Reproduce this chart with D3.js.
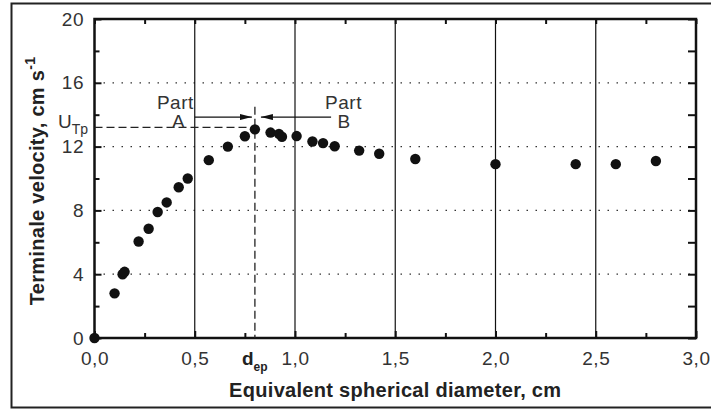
<!DOCTYPE html>
<meta charset="utf-8">
<script src="https://d3js.org/d3.v7.min.js"></script>
<style>
  body { margin: 0; background: #fff; }
  text { font-family: Arial, "Liberation Sans", sans-serif; }
</style>
<div id="chart"></div>
<script>

// data
var diameter = [0, 0.10, 0.14, 0.15, 0.22, 0.27, 0.315, 0.36, 0.42, 0.465, 0.57, 0.665, 0.75, 0.80,
                0.878, 0.92, 0.935, 1.008, 1.087, 1.14, 1.198, 1.32, 1.42, 1.60, 2.0, 2.4, 2.6, 2.8];
var velocity = [0, 2.8, 4.0, 4.15, 6.05, 6.85, 7.9, 8.5, 9.45, 10.0, 11.15, 12.0, 12.65, 13.08,
                12.88, 12.8, 12.62, 12.66, 12.32, 12.22, 12.02, 11.75, 11.55, 11.22, 10.9, 10.9, 10.9, 11.1];

var xTicks = [0, 0.5, 1.0, 1.5, 2.0, 2.5, 3.0];
var yTicks = [0, 4, 8, 12, 16, 20];
var xMinor = [0.25, 0.75, 1.25, 1.75, 2.25, 2.75];
var yMinor = [2, 6, 10, 14, 18];
var xGrid = [0.5, 1.0, 1.5, 2.0, 2.5];
var yGrid = [4, 8, 12, 16];

// annotation values
var dEp = 0.8, uTp = 13.2, arrowV = 13.85;
var arrowA = [0.5, 0.785], arrowB = [1.18, 0.83];

var W = 711, H = 409;
var margin = {top: 19, right: 15, bottom: 71, left: 94.5};

var svg = d3.select("#chart").append("svg")
    .attr("width", W)
    .attr("height", H);

var x = d3.scaleLinear().domain([0, 3]).range([margin.left, W - margin.right]);
var y = d3.scaleLinear().domain([0, 20]).range([H - margin.bottom, margin.top]);

// outer frame of the figure
svg.append("rect")
    .attr("x", 11.5).attr("y", 3.5)
    .attr("width", W).attr("height", 404)
    .attr("fill", "none").attr("stroke", "#222").attr("stroke-width", 2);

// grid
svg.selectAll(".hgrid").data(yGrid).enter().append("line")
    .attr("x1", x(0)).attr("x2", x(3))
    .attr("y1", function(d) { return y(d); }).attr("y2", function(d) { return y(d); })
    .attr("stroke", "#333").attr("stroke-width", 1.2)
    .attr("stroke-dasharray", "1.5,7.5");

svg.selectAll(".vgrid").data(xGrid).enter().append("line")
    .attr("y1", y(0)).attr("y2", y(20))
    .attr("x1", function(d) { return x(d); }).attr("x2", function(d) { return x(d); })
    .attr("stroke", "#111").attr("stroke-width", 1.2);

// axes with inward ticks
var fmt = function(d) { return d3.format(".1f")(d).replace(".", ","); };

var gx = svg.append("g")
    .attr("transform", "translate(0," + y(0) + ")")
    .call(d3.axisBottom(x).tickValues(xTicks).tickSize(-7).tickPadding(13.5).tickFormat(fmt));
var gy = svg.append("g")
    .attr("transform", "translate(" + x(0) + ",0)")
    .call(d3.axisLeft(y).tickValues(yTicks).tickSize(-7).tickPadding(10.5).tickFormat(d3.format("d")));
var gt = svg.append("g")
    .attr("transform", "translate(0," + y(20) + ")")
    .call(d3.axisTop(x).tickValues(xMinor.concat(xTicks)).tickSize(-5).tickFormat(""));
var gr = svg.append("g")
    .attr("transform", "translate(" + x(3) + ",0)")
    .call(d3.axisRight(y).tickValues(yMinor.concat(yTicks)).tickSize(-8).tickFormat(""));
var gxm = svg.append("g")
    .attr("transform", "translate(0," + y(0) + ")")
    .call(d3.axisBottom(x).tickValues(xMinor).tickSize(-5).tickFormat(""));
var gym = svg.append("g")
    .attr("transform", "translate(" + x(0) + ",0)")
    .call(d3.axisLeft(y).tickValues(yMinor).tickSize(-5).tickFormat(""));

[gx, gy, gt, gr, gxm, gym].forEach(function(g) {
  g.select(".domain").remove();
  g.selectAll(".tick line").attr("stroke", "#111").attr("stroke-width", 2);
  g.selectAll(".tick text").attr("font-size", 19).attr("fill", "#333")
    .attr("letter-spacing", 0.5)
    .attr("font-family", "Arial, 'Liberation Sans', sans-serif");
});

// plot frame
svg.append("rect")
    .attr("x", x(0)).attr("y", y(20))
    .attr("width", x(3) - x(0)).attr("height", y(0) - y(20))
    .attr("fill", "none").attr("stroke", "#111").attr("stroke-width", 2.5);

// dashed guides for the peak
svg.append("line")
    .attr("x1", x(0)).attr("x2", x(dEp) - 8)
    .attr("y1", y(uTp)).attr("y2", y(uTp))
    .attr("stroke", "#222").attr("stroke-width", 1.3).attr("stroke-dasharray", "8,4");
svg.append("line")
    .attr("x1", x(dEp)).attr("x2", x(dEp))
    .attr("y1", y(14.5)).attr("y2", y(0))
    .attr("stroke", "#222").attr("stroke-width", 1.3).attr("stroke-dasharray", "8,4");

// arrows
svg.append("defs").append("marker")
    .attr("id", "arrow")
    .attr("viewBox", "0 0 12 6")
    .attr("refX", 12).attr("refY", 3)
    .attr("markerWidth", 12).attr("markerHeight", 6)
    .attr("markerUnits", "userSpaceOnUse")
    .attr("orient", "auto")
  .append("path")
    .attr("d", "M0,0L12,3L0,6Z")
    .attr("fill", "#111");

[arrowA, arrowB].forEach(function(a) {
  svg.append("line")
      .attr("x1", x(a[0])).attr("x2", x(a[1]))
      .attr("y1", y(arrowV)).attr("y2", y(arrowV))
      .attr("stroke", "#111").attr("stroke-width", 1.2)
      .attr("marker-end", "url(#arrow)");
});

// points
svg.selectAll(".pt").data(diameter).enter().append("circle")
    .attr("cx", function(d) { return x(d); })
    .attr("cy", function(d, i) { return y(velocity[i]); })
    .attr("r", 5.2)
    .attr("fill", "#111");

// annotation text
function addText(str, px, py, anchor) {
  return svg.append("text").attr("x", px).attr("y", py)
      .attr("text-anchor", anchor)
      .attr("font-size", 19).attr("letter-spacing", 0.5).attr("fill", "#333")
      .text(str);
}
addText("Part", x(0.5) - 1, 109, "end");
addText("A", x(0.42), 128, "middle");
addText("Part", x(1.15), 109, "start");
addText("B", x(1.245), 128, "middle");

// U_Tp label
var ut = svg.append("text").attr("x", 58).attr("y", 128)
    .attr("font-size", 19).attr("fill", "#333");
ut.append("tspan").text("U");
ut.append("tspan").attr("dy", 6).attr("font-size", 14).text("Tp");

// d_ep label
var de = svg.append("text").attr("x", 242).attr("y", 365)
    .attr("font-size", 19).attr("font-weight", "bold").attr("fill", "#222");
de.append("tspan").text("d");
de.append("tspan").attr("dy", 6).attr("font-size", 12).text("ep");

// axis titles
svg.append("text")
    .attr("x", (x(0) + x(3)) / 2).attr("y", 397)
    .attr("text-anchor", "middle")
    .attr("font-size", 20).attr("font-weight", "bold").attr("fill", "#222")
    .attr("letter-spacing", 0.3)
    .text("Equivalent spherical diameter, cm");

var yl = svg.append("text")
    .attr("transform", "translate(44,181) rotate(-90)")
    .attr("text-anchor", "middle")
    .attr("font-size", 20).attr("font-weight", "bold").attr("fill", "#222")
    .attr("letter-spacing", 0.3);
yl.append("tspan").text("Terminale velocity, cm s");
yl.append("tspan").attr("dy", -9).attr("font-size", 14).text("-1");

</script>
